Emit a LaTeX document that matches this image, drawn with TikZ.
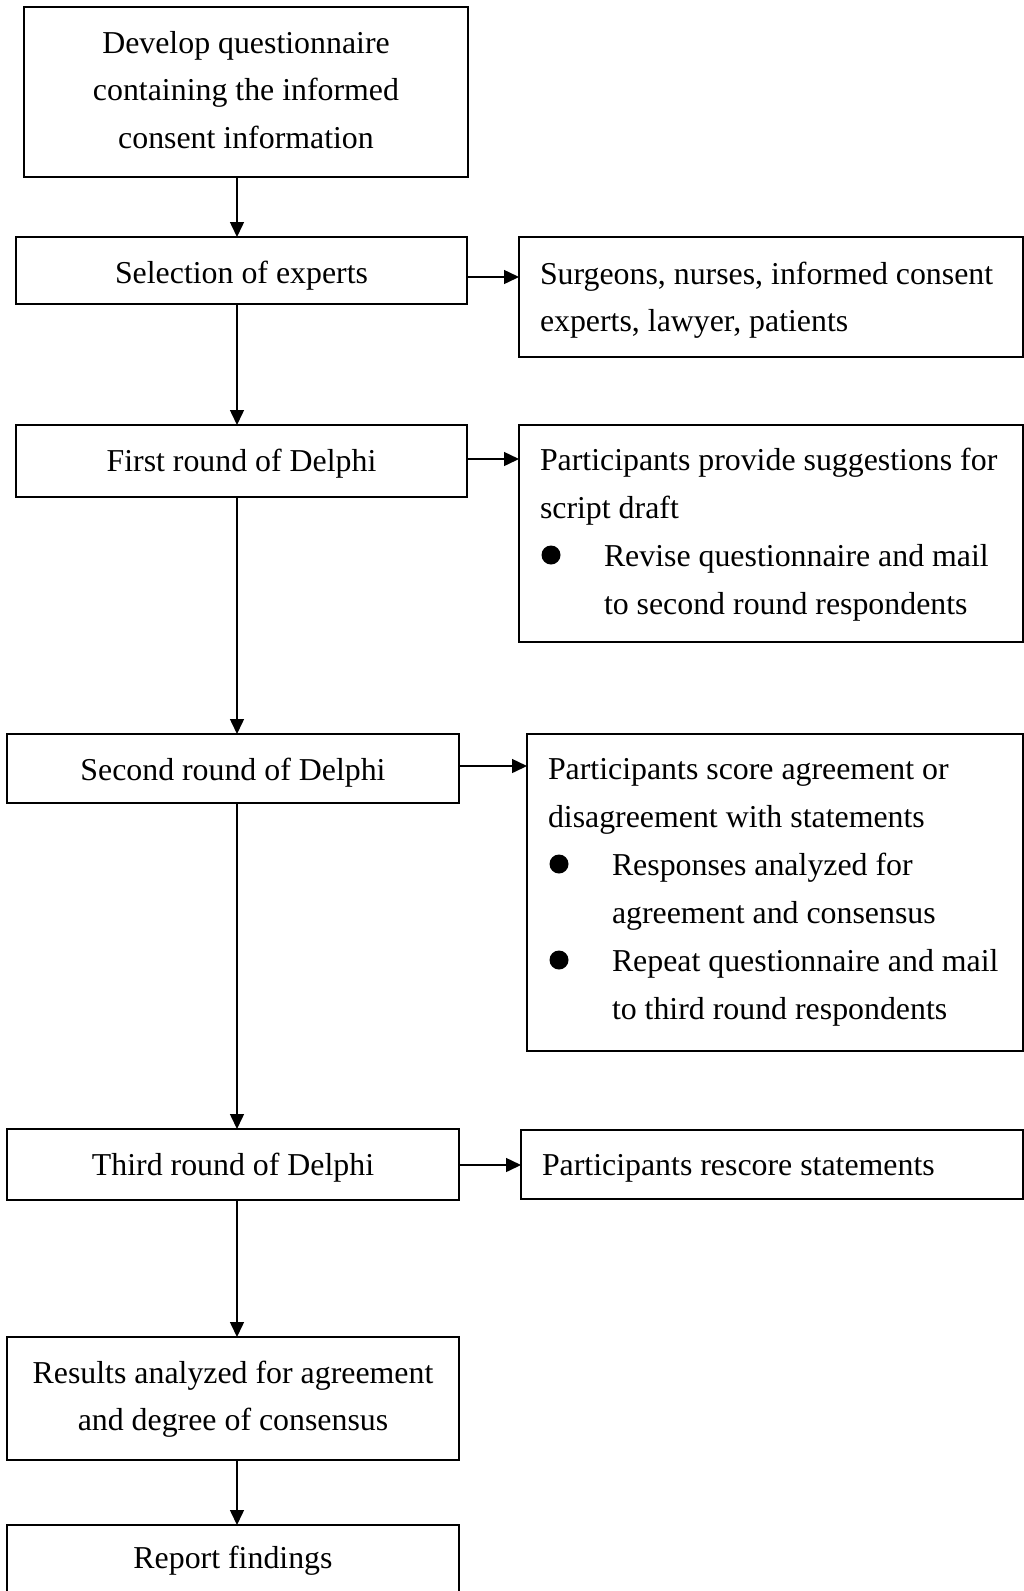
\documentclass[tikz,border=0pt]{standalone}
\usepackage{fontspec}
\setmainfont{Liberation Serif}
\usetikzlibrary{arrows.meta}
\newcommand{\bxlines}[3]{\makebox[#1][#2]{\begin{tabular}[t]{@{}#2@{}}#3\end{tabular}}}
\begin{document}
\begin{tikzpicture}[x=1pt,y=-1pt,
  box/.style={draw, line width=1.6pt, rectangle, anchor=north west, outer sep=0pt,
    inner ysep=0pt, font=\fontsize{31.85pt}{47.5pt}\selectfont},
  cbox/.style={box, inner xsep=0pt},
  lbox/.style={box, inner xsep=21pt},
  wide/.style={font=\fontsize{31.85pt}{48pt}\selectfont},
  arr/.style={line width=1.5pt, -{Triangle[length=15pt,width=14pt]}},
  bul/.style={circle, fill=black, draw=none, minimum size=19pt, inner sep=0pt}]
\useasboundingbox (0,0) rectangle (1024,1591);
\clip (0,0) rectangle (1024,1591);

% left column
\node[cbox, text height=46pt, text depth=124pt] (dev) at (24,7)
  {\bxlines{444pt}{c}{Develop questionnaire\\containing the informed\\consent information}};
\node[cbox, text height=46pt, text depth=21pt] (sel) at (16,237)
  {\bxlines{451pt}{c}{Selection of experts}};
\node[cbox, text height=46pt, text depth=26pt] (r1) at (16,425)
  {\bxlines{451pt}{c}{First round of Delphi}};
\node[cbox, text height=46pt, text depth=23pt] (r2) at (7,734)
  {\bxlines{452pt}{c}{Second round of Delphi}};
\node[cbox, text height=46pt, text depth=25pt] (r3) at (7,1129)
  {\bxlines{452pt}{c}{Third round of Delphi}};
\node[cbox, text height=46pt, text depth=77pt] (res) at (7,1337)
  {\bxlines{452pt}{c}{Results analyzed for agreement\\and degree of consensus}};
\node[cbox, text height=43pt, text depth=32pt] (rep) at (7,1525)
  {\bxlines{452pt}{c}{Report findings}};

% right column
\node[lbox, text height=47pt, text depth=73pt] (selr) at (519,237)
  {\bxlines{462pt}{l}{Surgeons, nurses, informed consent\\experts, lawyer, patients}};
\node[lbox, wide, text height=45pt, text depth=172pt] (r1r) at (519,425)
  {\bxlines{462pt}{l}{Participants provide suggestions for\\script draft\\
   \hspace*{64pt}Revise questionnaire and mail\\\hspace*{64pt}to second round respondents}};
\node[lbox, wide, text height=45pt, text depth=272pt] (r2r) at (527,734)
  {\bxlines{454pt}{l}{Participants score agreement or\\disagreement with statements\\
   \hspace*{64pt}Responses analyzed for\\\hspace*{64pt}agreement and consensus\\
   \hspace*{64pt}Repeat questionnaire and mail\\\hspace*{64pt}to third round respondents}};
\node[lbox, text height=45pt, text depth=24pt] (r3r) at (521,1130)
  {\bxlines{460pt}{l}{Participants rescore statements}};

% bullets
\node[bul] (b1) at (551,555) {};
\node[bul] (b2) at (559,864) {};
\node[bul] (b3) at (559,960) {};

% connector guides
\coordinate (ax) at (237,0);
\coordinate (h1) at (0,277);
\coordinate (h2) at (0,459);
\coordinate (h3) at (0,766);
\coordinate (h4) at (0,1165);

% vertical arrows
\draw[arr] (dev.south -| ax) -- (sel.north -| ax);
\draw[arr] (sel.south -| ax) -- (r1.north -| ax);
\draw[arr] (r1.south -| ax) -- (r2.north -| ax);
\draw[arr] (r2.south -| ax) -- (r3.north -| ax);
\draw[arr] (r3.south -| ax) -- (res.north -| ax);
\draw[arr] (res.south -| ax) -- (rep.north -| ax);

% horizontal arrows
\draw[arr] (sel.east |- h1) -- (selr.west |- h1);
\draw[arr] (r1.east |- h2) -- (r1r.west |- h2);
\draw[arr] (r2.east |- h3) -- (r2r.west |- h3);
\draw[arr] (r3.east |- h4) -- (r3r.west |- h4);
\end{tikzpicture}
\end{document}
